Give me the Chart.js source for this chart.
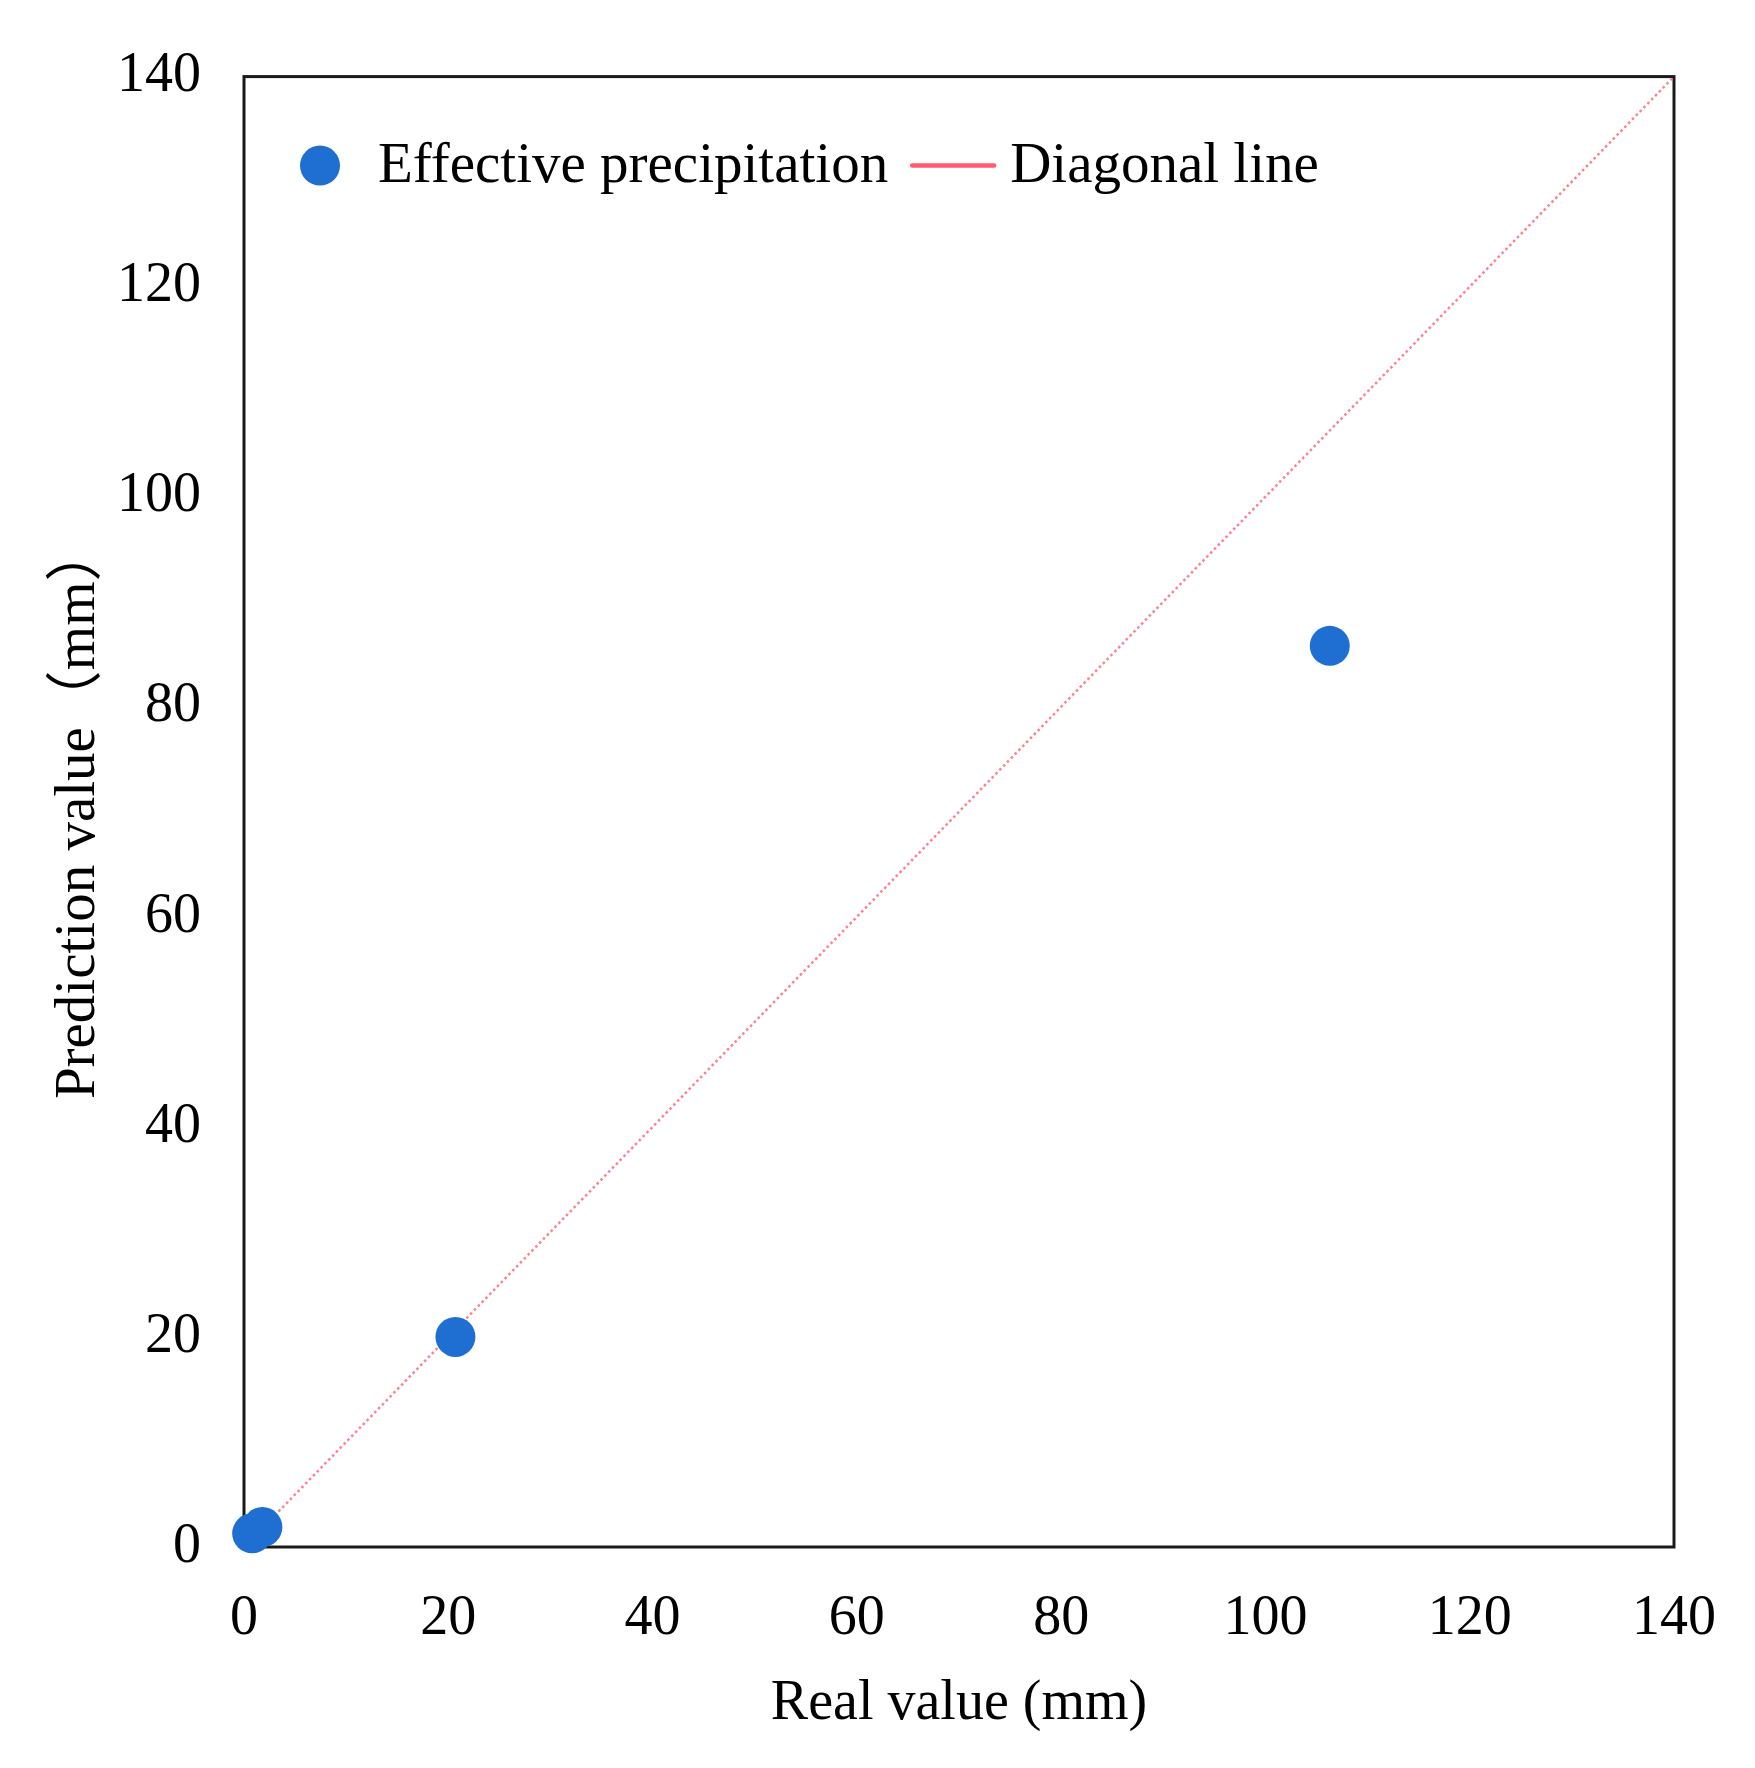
<!DOCTYPE html>
<html>
<head>
<meta charset="utf-8">
<script src="https://cdn.jsdelivr.net/npm/chart.js@4.4.1/dist/chart.umd.min.js"></script>
<style>
  html, body { margin: 0; padding: 0; background: #fff; overflow: hidden; }
  #wrap { width: 1755px; height: 1768px; position: relative; }
  canvas { display: block; }
</style>
</head>
<body>
<div id="wrap"><canvas id="chart"></canvas></div>
<script>
// Effective precipitation: real vs predicted (mm)
const realValues = [0.8, 1.8, 20.7, 106.3];
const predValues = [1.3, 1.9, 20.0, 85.8];
const diagX = [0, 140];
const diagY = [0, 140];
const seriesNames = ['Effective precipitation', 'Diagonal line'];
const axisMin = 0, axisMax = 140, axisStep = 20;

const SERIF = "'Liberation Serif', 'Times New Roman', 'Noto Sans CJK SC', serif";
Chart.defaults.font.family = SERIF;
Chart.defaults.font.size = 56;
Chart.defaults.color = '#000';

const BLUE = '#1f6fd2';
const PINK_LEGEND = '#ff5c70';

// black frame around the plot area, drawn under the points
const frame = {
    id: 'frame',
    beforeDatasetsDraw(chart) {
        const { ctx, chartArea: a } = chart;
        ctx.save();
        ctx.strokeStyle = '#1a1a1a';
        ctx.lineWidth = 3;
        ctx.strokeRect(a.left, a.top, a.right - a.left, a.bottom - a.top);
        ctx.restore();
    }
};

// one-row legend inside the plot area, top left
const insideLegend = {
    id: 'insideLegend',
    afterDraw(chart) {
        const { ctx, chartArea: a } = chart;
        const ds = chart.data.datasets;
        const y = a.top + 89;
        ctx.save();
        ctx.font = '57px ' + SERIF;
        ctx.textBaseline = 'middle';
        ctx.textAlign = 'left';

        // scatter item: dot + label
        let x = a.left + 76;
        ctx.beginPath();
        ctx.arc(x, y, 20, 0, Math.PI * 2);
        ctx.fillStyle = ds[0].backgroundColor;
        ctx.fill();
        ctx.fillStyle = '#000';
        x += 58;
        ctx.fillText(ds[0].label, x, y + 1);
        x += ctx.measureText(ds[0].label).width + 24;

        // line item: short solid stroke + label
        ctx.strokeStyle = PINK_LEGEND;
        ctx.lineWidth = 4.5;
        ctx.lineCap = 'round';
        ctx.beginPath();
        ctx.moveTo(x, y);
        ctx.lineTo(x + 82, y);
        ctx.stroke();
        x += 98;
        ctx.fillText(ds[1].label, x, y + 1);
        ctx.restore();
    }
};

const scatterPoints = realValues.map((x, i) => ({ x: x, y: predValues[i] }));
const diagPoints = diagX.map((x, i) => ({ x: x, y: diagY[i] }));

new Chart(document.getElementById('chart'), {
    type: 'scatter',
    data: {
        datasets: [
            {
                label: seriesNames[0],
                data: scatterPoints,
                backgroundColor: BLUE,
                borderColor: BLUE,
                borderWidth: 0,
                pointRadius: 20,
                pointHoverRadius: 20,
                pointStyle: 'circle',
                clip: false,
                order: 0
            },
            {
                label: seriesNames[1],
                type: 'line',
                data: diagPoints,
                borderColor: 'rgba(255, 95, 115, 0.8)',
                borderWidth: 2.5,
                borderDash: [2.5, 3],
                pointRadius: 0,
                fill: false,
                order: 1
            }
        ]
    },
    options: {
        responsive: true,
        maintainAspectRatio: false,
        animation: false,
        layout: { padding: { left: 0, top: 76, right: 74, bottom: 0 } },
        scales: {
            x: {
                type: 'linear',
                min: axisMin,
                max: axisMax,
                grid: { display: false, drawTicks: false },
                border: { display: false },
                ticks: { stepSize: axisStep, padding: 39 },
                title: {
                    display: true,
                    text: 'Real value (mm)',
                    padding: { top: 0, bottom: 30 }
                },
                afterFit(scale) { scale.height = 221; }
            },
            y: {
                type: 'linear',
                min: axisMin,
                max: axisMax,
                grid: { display: false, drawTicks: false },
                border: { display: false },
                ticks: { stepSize: axisStep, padding: 43 },
                title: {
                    display: true,
                    text: 'Prediction value（mm）',
                    font: { size: 57 },
                    padding: { top: 45, bottom: 0 }
                },
                afterFit(scale) { scale.width = 244; }
            }
        },
        plugins: {
            tooltip: { enabled: false },
            legend: { display: false }
        }
    },
    plugins: [frame, insideLegend]
});
</script>
</body>
</html>
